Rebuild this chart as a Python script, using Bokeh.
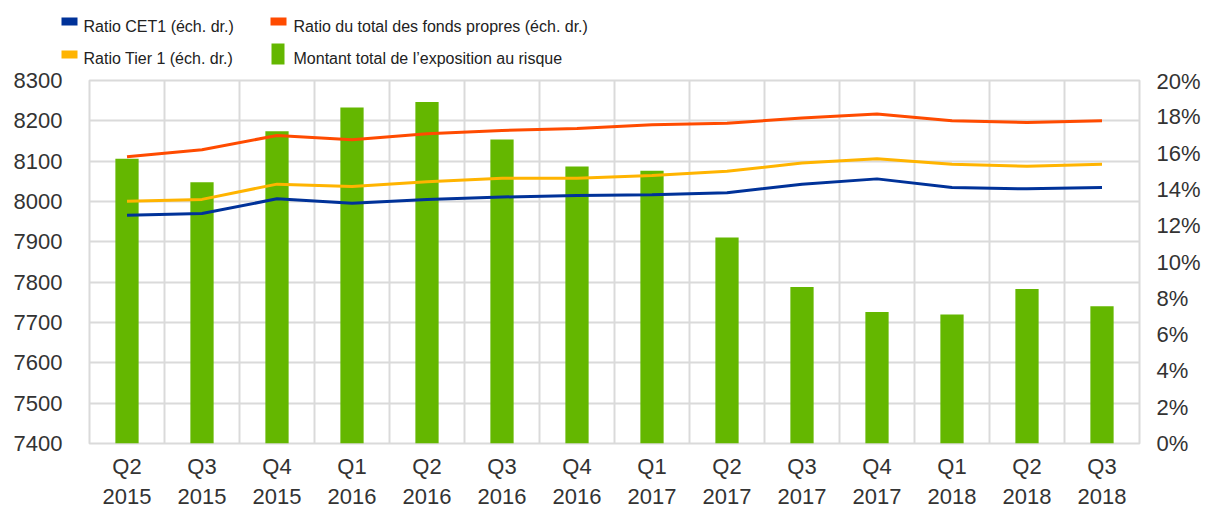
from bokeh.plotting import figure
from bokeh.layouts import column, row
from bokeh.models import Range1d, LinearAxis, FixedTicker
from bokeh.core.properties import value
from bokeh.embed import file_html
from bokeh.resources import INLINE

quarters = ["Q2\n2015", "Q3\n2015", "Q4\n2015", "Q1\n2016", "Q2\n2016", "Q3\n2016", "Q4\n2016",
            "Q1\n2017", "Q2\n2017", "Q3\n2017", "Q4\n2017", "Q1\n2018", "Q2\n2018", "Q3\n2018"]
montant = [8106, 8048, 8174, 8233, 8247, 8154, 8087, 8076, 7911, 7788, 7726, 7720, 7783, 7740]
total_fp = [15.8, 16.18, 16.97, 16.73, 17.07, 17.25, 17.36, 17.56, 17.65, 17.93, 18.15, 17.78, 17.69, 17.78]
tier1 = [13.35, 13.45, 14.29, 14.16, 14.42, 14.62, 14.62, 14.76, 15.0, 15.45, 15.69, 15.38, 15.27, 15.38]
cet1 = [12.58, 12.67, 13.48, 13.24, 13.44, 13.58, 13.67, 13.7, 13.82, 14.29, 14.58, 14.1, 14.03, 14.1]
left_ticks = list(range(7400, 8301, 100))
right_ticks = list(range(0, 21, 2))

legend_labels = [
    "Ratio CET1 (éch. dr.)",
    "Ratio du total des fonds propres (éch. dr.)",
    "Ratio Tier 1 (éch. dr.)",
    "Montant total de l\u2019exposition au risque",
]

GREEN = "#64b700"
BLUE = "#003299"
ORANGE = "#ff4b00"
YELLOW = "#ffb400"
GRID = "#dadada"
FONT = "Liberation Sans"
TXT = "#333333"

legend_colors = [BLUE, ORANGE, YELLOW, GREEN]
# legend layout (pixels in the strip): swatch boxes and label anchors
sw_left = [61, 270, 61, 271]
sw_right = [77, 286, 77, 284]
sw_top = [17, 17, 50, 43]
sw_bottom = [25, 25, 58, 64]
lab_x = [83, 293, 83, 293]
lab_y = [26.2, 26.2, 57.5, 57.5]

xs = [i + 0.5 for i in range(len(quarters))]

# ---------- legend strip ----------
LG_H = 68
lg = figure(width=1212, height=LG_H, output_backend="svg", toolbar_location=None,
            x_range=Range1d(0, 1212), y_range=Range1d(LG_H, 0),
            x_axis_location=None, y_axis_location=None,
            min_border_left=0, min_border_right=0, min_border_top=0, min_border_bottom=0)
lg.grid.visible = False
lg.outline_line_color = None
lg.background_fill_color = "white"
lg.border_fill_color = "white"
lg.quad(left=sw_left, right=sw_right, top=sw_top, bottom=sw_bottom,
        fill_color=legend_colors, line_color=None)
lg.text(x=lab_x, y=lab_y, text=legend_labels, text_font=value(FONT), text_font_size="16px",
        text_color="#222222", text_baseline="alphabetic", text_align="left")

# ---------- main chart ----------
p = figure(width=1212, height=511 - LG_H, output_backend="svg", toolbar_location=None,
           x_range=Range1d(0, len(quarters)), y_range=Range1d(left_ticks[0], left_ticks[-1]),
           min_border_left=89, min_border_right=73, min_border_top=80 - LG_H, min_border_bottom=68)
p.extra_y_ranges = {"pct": Range1d(right_ticks[0], right_ticks[-1])}

p.background_fill_color = "white"
p.border_fill_color = "white"
p.outline_line_color = GRID
p.outline_line_width = 2

p.vbar(x=xs, top=montant, bottom=left_ticks[0], width=0.31, fill_color=GREEN, line_color=None)
p.line(xs, cet1, y_range_name="pct", line_color=BLUE, line_width=3)
p.line(xs, tier1, y_range_name="pct", line_color=YELLOW, line_width=3)
p.line(xs, total_fp, y_range_name="pct", line_color=ORANGE, line_width=3)

p.xgrid.ticker = FixedTicker(ticks=list(range(len(quarters) + 1)))
p.ygrid.ticker = FixedTicker(ticks=left_ticks)
for g in (p.xgrid, p.ygrid):
    g.grid_line_color = GRID
    g.grid_line_width = 2

def style_axis(ax, size="22px"):
    ax.axis_line_color = None
    ax.major_tick_line_color = None
    ax.minor_tick_line_color = None
    ax.major_label_text_font = FONT
    ax.major_label_text_font_size = size
    ax.major_label_text_color = TXT

xa = p.xaxis[0]
xa.ticker = FixedTicker(ticks=xs)
xa.major_label_overrides = {x: q for x, q in zip(xs, quarters)}
style_axis(xa, "22px")
xa.major_label_standoff = 4

ya = p.yaxis[0]
ya.ticker = FixedTicker(ticks=left_ticks)
style_axis(ya, "22px")
ya.major_label_standoff = 21

ra = LinearAxis(y_range_name="pct", ticker=FixedTicker(ticks=right_ticks))
ra.major_label_overrides = {t: f"{t}%" for t in right_ticks}
style_axis(ra)
ra.major_label_standoff = 11
p.add_layout(ra, "right")

layout = column(row(lg), p)
open("out.html", "w").write(file_html(layout, INLINE))
